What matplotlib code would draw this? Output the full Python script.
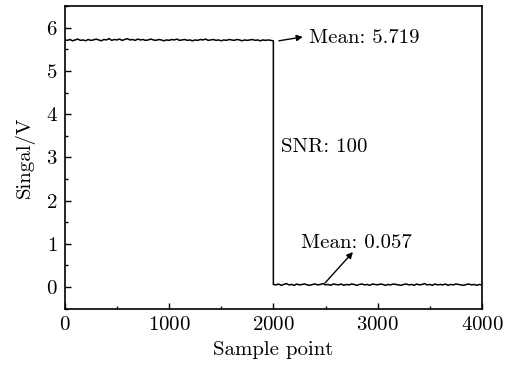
import numpy as np
import matplotlib
matplotlib.use("Agg")
import matplotlib.pyplot as plt
from matplotlib.ticker import MultipleLocator

# sample points (every 25th sample) and signal values
high_points = np.arange(0, 2001, 25)
high_values = [5.72, 5.71, 5.73, 5.70, 5.72, 5.74, 5.71, 5.72, 5.70, 5.73,
               5.71, 5.72, 5.74, 5.72, 5.70, 5.73, 5.72, 5.75, 5.71, 5.73,
               5.72, 5.74, 5.71, 5.73, 5.75, 5.72, 5.73, 5.71, 5.74, 5.72,
               5.73, 5.71, 5.72, 5.74, 5.72, 5.71, 5.73, 5.72, 5.70, 5.72,
               5.71, 5.73, 5.72, 5.74, 5.71, 5.72, 5.73, 5.71, 5.72, 5.70,
               5.72, 5.71, 5.73, 5.72, 5.74, 5.71, 5.72, 5.73, 5.71, 5.72,
               5.70, 5.72, 5.71, 5.73, 5.72, 5.71, 5.73, 5.72, 5.70, 5.72,
               5.71, 5.72, 5.73, 5.71, 5.72, 5.70, 5.72, 5.71, 5.72, 5.71,
               5.70]
low_points = np.arange(2000, 4001, 25)
low_values = [0.06, 0.05, 0.07, 0.04, 0.06, 0.08, 0.05, 0.06, 0.04, 0.07,
              0.05, 0.06, 0.07, 0.05, 0.04, 0.06, 0.07, 0.05, 0.06, 0.08,
              0.05, 0.06, 0.04, 0.07, 0.06, 0.05, 0.07, 0.04, 0.06, 0.05,
              0.07, 0.06, 0.04, 0.06, 0.07, 0.05, 0.06, 0.04, 0.07, 0.06,
              0.05, 0.07, 0.06, 0.04, 0.06, 0.05, 0.07, 0.06, 0.05, 0.04,
              0.06, 0.07, 0.05, 0.06, 0.04, 0.07, 0.05, 0.06, 0.08, 0.05,
              0.06, 0.04, 0.07, 0.05, 0.06, 0.05, 0.07, 0.04, 0.06, 0.05,
              0.07, 0.06, 0.05, 0.04, 0.06, 0.07, 0.05, 0.06, 0.04, 0.06,
              0.05]

plt.rcParams['font.family'] = 'serif'
plt.rcParams['font.serif'] = ['cmr10']
plt.rcParams['mathtext.fontset'] = 'cm'
plt.rcParams['axes.formatter.use_mathtext'] = True
plt.rcParams['font.size'] = 15

fig = plt.figure(figsize=(5.10, 3.67), dpi=100)
ax = fig.add_axes([0.127, 0.159, 0.818, 0.824])

x = np.concatenate([high_points, low_points])
y = np.concatenate([high_values, low_values])
ax.plot(x, y, color='black', lw=1.1)

ax.set_xlim(0, 4000)
ax.set_ylim(-0.5, 6.5)
ax.xaxis.set_major_locator(MultipleLocator(1000))
ax.xaxis.set_minor_locator(MultipleLocator(500))
ax.yaxis.set_major_locator(MultipleLocator(1))
ax.yaxis.set_minor_locator(MultipleLocator(0.5))
ax.tick_params(which='both', direction='in', top=False, right=False)
ax.tick_params(which='major', length=4, width=1, pad=5)
ax.tick_params(which='minor', length=2.5, width=1)
for s in ax.spines.values():
    s.set_linewidth(1.2)

ax.set_xlabel('Sample point', labelpad=5)
ax.set_ylabel('Singal/V', labelpad=8)

arrow = dict(arrowstyle='-|>', color='black', lw=1, mutation_scale=9, shrinkA=0, shrinkB=0)
ax.annotate('', xy=(2283, 5.79), xytext=(2053, 5.70), arrowprops=arrow)
ax.text(2340, 5.76, 'Mean: 5.719', va='center', ha='left')
ax.annotate('', xy=(2763, 0.81), xytext=(2494, 0.09), arrowprops=arrow)
ax.text(2264, 1.02, 'Mean: 0.057', va='center', ha='left')
ax.text(2072, 3.24, 'SNR: 100', va='center', ha='left')

fig.savefig('out.png', dpi=100)
